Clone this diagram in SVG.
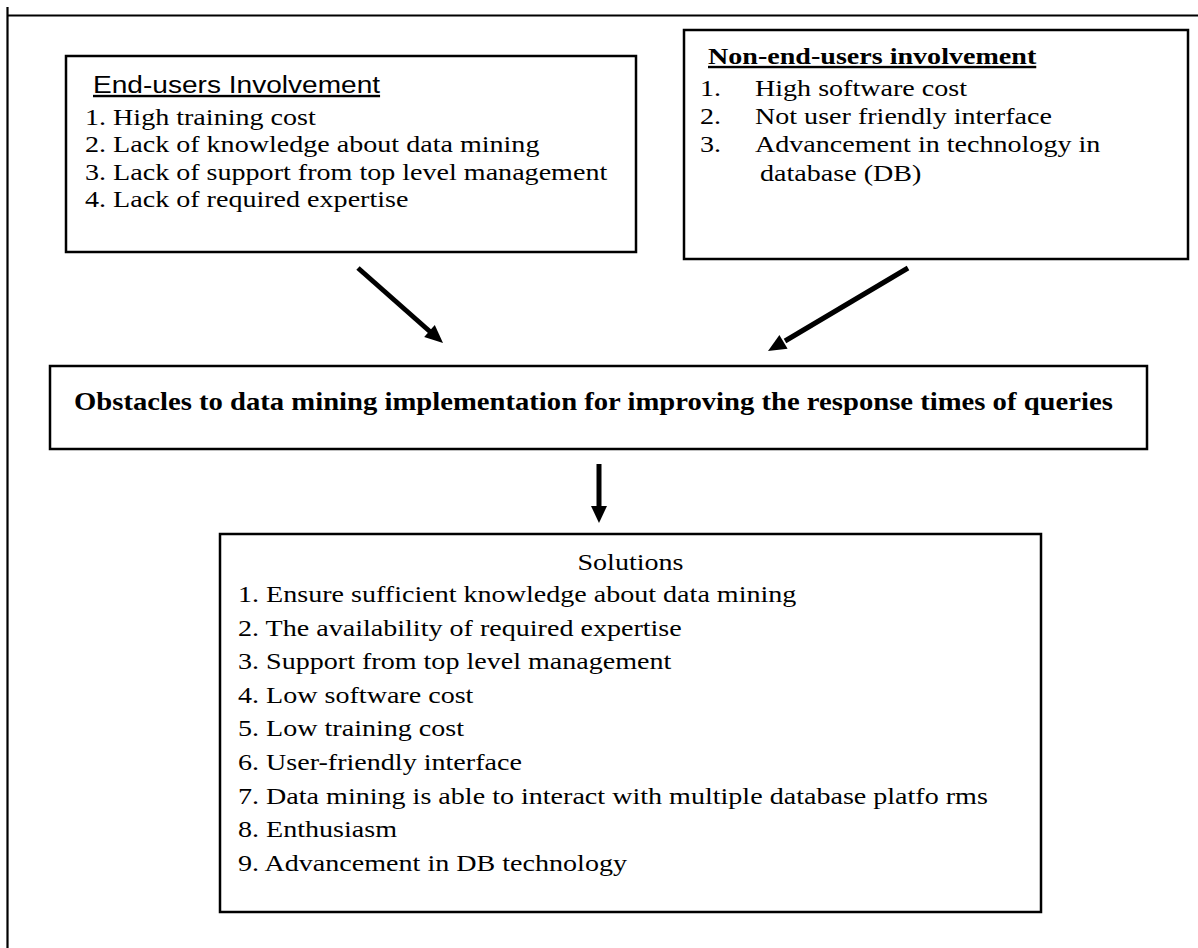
<svg xmlns="http://www.w3.org/2000/svg" width="1198" height="948" viewBox="0 0 1198 948">
  <style>
    .box { fill: #fff; stroke: #000; stroke-width: 2.5; }
    .frame { fill: none; stroke: #000; stroke-width: 2.2; }
    .t { font-family: "Liberation Serif", "Times New Roman", serif; font-size: 24px; fill: #000; }
    .tb { font-family: "Liberation Serif", "Times New Roman", serif; font-size: 24px; font-weight: bold; fill: #000; }
    .big { font-size: 24.5px; }
    .h { font-family: "Liberation Sans", Arial, sans-serif; font-size: 24px; fill: #000; }
    .u { text-decoration: underline; }
    .conn { stroke: #000; stroke-width: 5; fill: none; }
    .head { fill: #000; stroke: none; }
  </style>
  <rect width="1198" height="948" fill="#fff"/>

  <!-- page frame -->
  <path class="frame" d="M7.5,948 V7 M7.5,15.5 H1198"/>

  <!-- end-user obstacles (text is set slightly wide: matrix x-scale 1.17) -->
  <g id="end-users">
    <rect class="box" x="66" y="56" width="570" height="196"/>
    <text class="h u" transform="matrix(1.17 0 0 1 93 93)">End-users Involvement</text>
    <text class="t" transform="matrix(1.17 0 0 1 85 124.5)">1. High training cost</text>
    <text class="t" transform="matrix(1.17 0 0 1 85 152)">2. Lack of knowledge about data mining</text>
    <text class="t" transform="matrix(1.17 0 0 1 85 179.5)">3. Lack of support from top level management</text>
    <text class="t" transform="matrix(1.17 0 0 1 85 207)">4. Lack of required expertise</text>
  </g>

  <!-- non-end-user obstacles -->
  <g id="non-end-users">
    <rect class="box" x="684" y="30" width="504" height="229"/>
    <text class="tb u" transform="matrix(1.17 0 0 1 708 64)">Non-end-users involvement</text>
    <text class="t" transform="matrix(1.17 0 0 1 700 96)">1.</text>
    <text class="t" transform="matrix(1.17 0 0 1 755 96)">High software cost</text>
    <text class="t" transform="matrix(1.17 0 0 1 700 124)">2.</text>
    <text class="t" transform="matrix(1.17 0 0 1 755 124)">Not user friendly interface</text>
    <text class="t" transform="matrix(1.17 0 0 1 700 152)">3.</text>
    <text class="t" transform="matrix(1.17 0 0 1 755 152)">Advancement in technology in</text>
    <text class="t" transform="matrix(1.17 0 0 1 760 181)">database (DB)</text>
  </g>

  <!-- central problem statement -->
  <g id="obstacles">
    <rect class="box" x="50" y="366" width="1097" height="83"/>
    <text class="tb big" transform="matrix(1.17 0 0 1 74 410)">Obstacles to data mining implementation for improving the response times of queries</text>
  </g>

  <!-- proposed solutions -->
  <g id="solutions">
    <rect class="box" x="220" y="534" width="821" height="378"/>
    <text class="t" text-anchor="middle" transform="matrix(1.17 0 0 1 630.5 570)">Solutions</text>
    <text class="t" transform="matrix(1.17 0 0 1 238 602)">1. Ensure sufficient knowledge about data mining</text>
    <text class="t" transform="matrix(1.17 0 0 1 238 635.6)">2. The availability of required expertise</text>
    <text class="t" transform="matrix(1.17 0 0 1 238 669.2)">3. Support from top level management</text>
    <text class="t" transform="matrix(1.17 0 0 1 238 702.8)">4. Low software cost</text>
    <text class="t" transform="matrix(1.17 0 0 1 238 736.4)">5. Low training cost</text>
    <text class="t" transform="matrix(1.17 0 0 1 238 770)">6. User-friendly interface</text>
    <text class="t" transform="matrix(1.17 0 0 1 238 803.6)">7. Data mining is able to interact with multiple database platfo rms</text>
    <text class="t" transform="matrix(1.17 0 0 1 238 837.2)">8. Enthusiasm</text>
    <text class="t" transform="matrix(1.17 0 0 1 238 870.8)">9. Advancement in DB technology</text>
  </g>

  <!-- connectors -->
  <g id="connectors">
    <line class="conn" x1="358" y1="268" x2="431" y2="332.5"/>
    <polygon class="head" points="443,343 424.2,337.1 434.8,325.1"/>
    <line class="conn" x1="908" y1="268" x2="785" y2="341"/>
    <polygon class="head" points="768,351 779.4,334.9 787.6,348.7"/>
    <line class="conn" x1="599" y1="464" x2="599" y2="508"/>
    <polygon class="head" points="599,523 591,506 607,506"/>
  </g>
</svg>
